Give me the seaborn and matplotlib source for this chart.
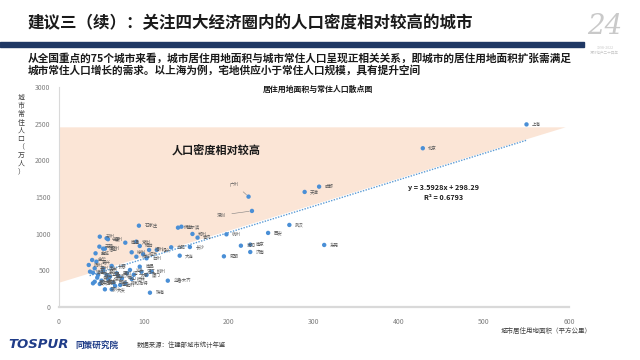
import matplotlib
matplotlib.use("Agg")
import matplotlib.pyplot as plt
import seaborn as sns
import pandas as pd
import numpy as np
from matplotlib.patches import Polygon, Rectangle

# ---------------- data ----------------
cities = ["上海", "北京", "成都", "天津", "广州", "深圳", "武汉", "西安", "杭州", "东莞",
          "沈阳", "南京", "济南", "昆明", "乌鲁木齐", "珠海", "大连", "长沙", "合肥", "郑州",
          "青岛", "石家庄", "佛山", "哈尔滨",
          "苏州", "宁波", "温州", "无锡", "唐山", "泉州", "盐城", "南通", "常州", "烟台",
          "福州", "徐州", "潍坊", "临沂", "绍兴", "台州", "金华", "嘉兴", "扬州", "泰州",
          "镇江", "淮安", "洛阳", "襄阳", "宜昌", "芜湖", "惠州", "中山", "江门", "汕头",
          "南昌", "湛江", "厦门", "柳州", "桂林", "呼和浩特", "海口", "银川", "西宁", "包头",
          "鄂尔多斯", "大庆", "吉林", "保定", "邯郸", "济宁", "贵阳", "太原", "兰州", "南宁", "长春"]
land_area = [550, 428, 306, 289, 223, 227, 271, 246, 197, 312,
             214, 225, 225, 194, 128, 107, 142, 154, 132, 157,
             163, 94, 140, 144,
             48, 56, 57.6, 47.5, 52, 54, 43, 78, 91, 95,
             106, 85.5, 91, 99, 115, 103, 39, 44, 35, 42,
             36.5, 40, 46, 52, 56, 60, 68, 74, 80, 83.5,
             95, 97, 103, 109, 85.5, 78, 66, 54, 48, 40,
             42, 62, 50, 58, 64, 70, 45, 88, 72, 52, 62]
population = [2490, 2165, 1641, 1569, 1505, 1310, 1119, 1010, 991, 846,
              836, 850, 750, 691, 359, 195, 700, 818, 814, 996,
              946, 1109, 1082, 1095,
              959, 937, 924, 823, 795, 795, 732, 877, 891, 832,
              778, 746, 686, 719, 778, 664, 641, 618, 573, 528,
              482, 468, 437, 482, 437, 414, 460, 391, 460, 505,
              550, 482, 437, 482, 382, 323, 287, 241, 314, 323,
              345, 241, 360, 380, 330, 420, 400, 440, 300, 520, 560]

slope = 3.5928
intercept = 298.29
fit_x = [36, 550]
r_squared = 0.6793

shade_top = 2450
shade_right_x = 596
shade_left_y = 330

x_ticks = [0, 100, 200, 300, 400, 500, 600]
y_ticks = [0, 500, 1000, 1500, 2000, 2500, 3000]

df = pd.DataFrame({"city": cities, "area": land_area, "pop": population})

# ---------------- style ----------------
sns.set_theme(style="white")
plt.rcParams["font.family"] = ["Noto Sans CJK SC", "DejaVu Sans"]
plt.rcParams["axes.unicode_minus"] = False

fig = plt.figure(figsize=(6.4, 3.6), dpi=100)
fig.patch.set_facecolor("white")

# title
fig.text(28 / 640, 1 - 23 / 360, "建议三（续）：关注四大经济圈内的人口密度相对较高的城市",
         fontsize=11.9, fontweight="bold", color="#1a1a1a", va="center", ha="left")
fig.patches.append(Rectangle((0, 1 - 47 / 360), 584 / 640, 5 / 360,
                             transform=fig.transFigure, color="#1F3864", zorder=1))
# logo "24"
fig.text(0.945, 0.925, "24", fontsize=20, fontstyle="italic", family="DejaVu Serif",
         color="#c9c9c9", ha="center", va="center")
fig.text(0.945, 0.86, "1998-2022\n深圳地产二十四年", fontsize=2.6, color="#c9c9c9",
         ha="center", va="center", linespacing=1.2)

# subtitle
fig.text(28 / 640, 1 - 58 / 360, "从全国重点的75个城市来看，城市居住用地面积与城市常住人口呈现正相关关系，即城市的居住用地面积扩张需满足",
         fontsize=7.7, fontweight="bold", color="#1a1a1a", va="center", ha="left")
fig.text(28 / 640, 1 - 70 / 360, "城市常住人口增长的需求。以上海为例，宅地供应小于常住人口规模，具有提升空间",
         fontsize=7.7, fontweight="bold", color="#1a1a1a", va="center", ha="left")

# axes
ax = fig.add_axes([59 / 640, 1 - 307 / 360, 510 / 640, 220 / 360])
ax.set_facecolor("white")

poly = Polygon([(0, shade_top), (shade_right_x, shade_top), (0, shade_left_y)],
               closed=True, facecolor="#FBE5D6", edgecolor="none", zorder=0)
ax.add_patch(poly)

fx = np.array(fit_x, dtype=float)
ax.plot(fx, slope * fx + intercept, linestyle=(0, (1, 1)), color="#5B9BD5",
        linewidth=1.0, zorder=2)

sns.scatterplot(data=df, x="area", y="pop", ax=ax, color="#4A8FD6", s=10,
                edgecolor="none", zorder=3, legend=False)

special = {"广州": (-10, 9), "深圳": (-22, -3)}
for c, xv, yv in zip(cities, land_area, population):
    if c in special:
        ax.annotate(c, (xv, yv), xytext=special[c], textcoords="offset points",
                    fontsize=3.2, color="#595959", ha="center", va="center",
                    arrowprops=dict(arrowstyle="-", color="#7f7f7f", lw=0.4,
                                    shrinkA=2, shrinkB=2))
    else:
        ax.annotate(c, (xv, yv), xytext=(4, 0), textcoords="offset points",
                    fontsize=3.2, color="#595959", ha="left", va="center")

ax.set_xlim(0, 600)
ax.set_ylim(0, 3000)
ax.set_xticks(x_ticks)
ax.set_yticks(y_ticks)
ax.set_xticklabels([str(v) for v in x_ticks], fontsize=5, color="#7f7f7f")
ax.set_yticklabels([str(v) for v in y_ticks], fontsize=5, color="#7f7f7f")
ax.tick_params(axis="both", length=0, pad=6)
ax.tick_params(axis="x", pad=8)
ax.set_xlabel("")
ax.set_ylabel("")
for s in ["top", "right"]:
    ax.spines[s].set_visible(False)
ax.spines["left"].set_color("#d9d9d9")
ax.spines["left"].set_linewidth(0.8)
ax.spines["bottom"].set_color("#d9d9d9")
ax.spines["bottom"].set_linewidth(1.6)
ax.grid(False)

# texts inside axes
ax.text(0.507, 0.99, "居住用地面积与常住人口散点图", transform=ax.transAxes,
        fontsize=5.7, fontweight="bold", color="#1a1a1a", ha="center", va="center")
ax.text(133, 2120, "人口密度相对较高", fontsize=8, fontweight="bold",
        color="#1a1a1a", ha="left", va="center")
ax.text(452, 1630, f"y = {slope}x + {intercept}", fontsize=5.2, fontweight="bold",
        color="#1a1a1a", ha="center", va="center")
ax.text(452, 1495, f"R² = {r_squared}", fontsize=5.2, fontweight="bold",
        color="#1a1a1a", ha="center", va="center")

# y label (stacked characters)
fig.text(21 / 640, 1 - 135 / 360, "\n".join("城市常住人口（万人）"), fontsize=5,
         color="#404040", ha="center", va="center", linespacing=1.05)
# x label
fig.text(592 / 640, 1 - 331 / 360, "城市居住用地面积（平方公里）", fontsize=4.7,
         color="#404040", ha="right", va="center")

# footer
fig.text(8 / 640, 1 - 345 / 360, "TOSPUR", fontsize=9.5, fontweight="bold", fontstyle="italic",
         color="#1F3C88", ha="left", va="center", family="DejaVu Sans")
fig.text(75 / 640, 1 - 345 / 360, "同策研究院", fontsize=6.2, fontweight="bold",
         color="#1F3C88", ha="left", va="center")
fig.text(137 / 640, 1 - 345 / 360, "数据来源：住建部城市统计年鉴", fontsize=4.6,
         color="#404040", ha="left", va="center")

fig.savefig("out.png", dpi=100, facecolor="white")
